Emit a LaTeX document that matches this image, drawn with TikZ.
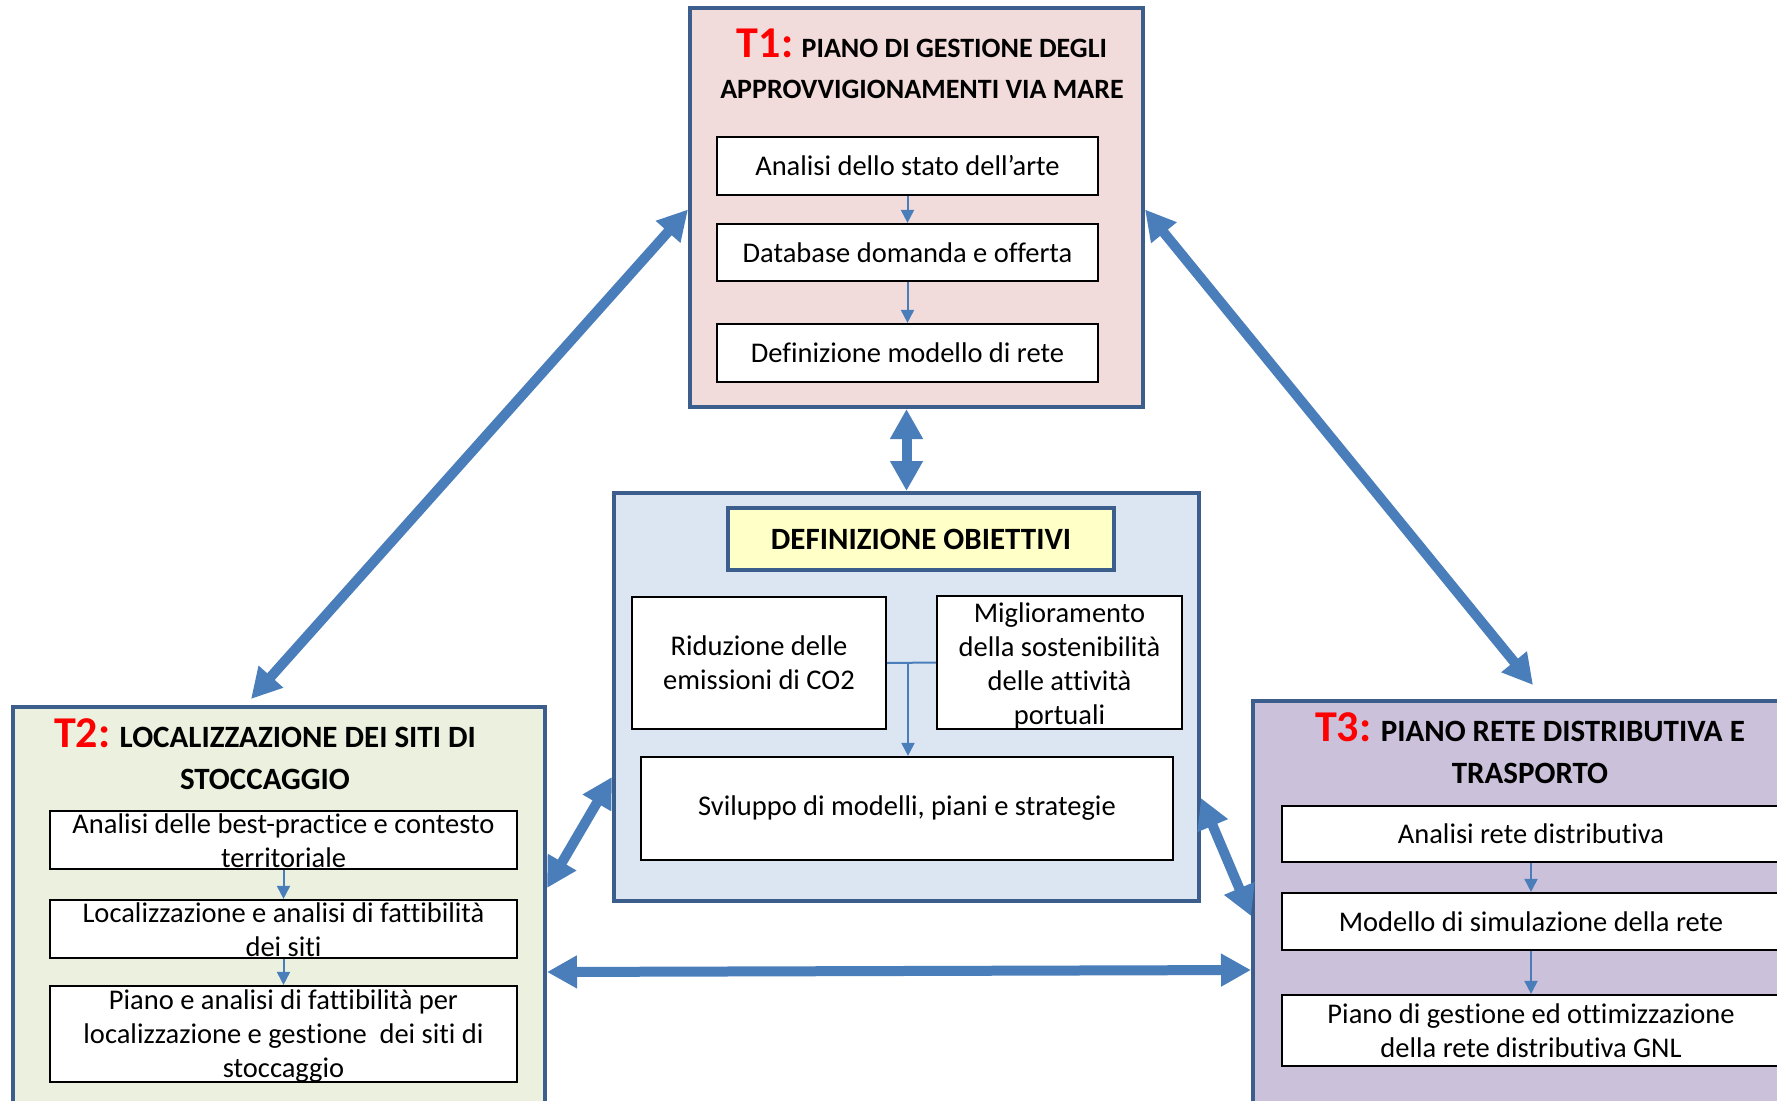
\documentclass[tikz,border=0pt]{standalone}
\usepackage{fontspec}
\setmainfont{Carlito}[Ligatures=NoCommon]
\usetikzlibrary{arrows.meta}
\definecolor{arrowblue}{HTML}{4A7EBB}
\definecolor{frameblue}{HTML}{3B5E8C}
\definecolor{tonepink}{HTML}{F2DCDB}
\definecolor{toneblue}{HTML}{DCE6F2}
\definecolor{tonegreen}{HTML}{EBF1DE}
\definecolor{tonepurple}{HTML}{CCC1DA}
\definecolor{toneyellow}{HTML}{FFFFC8}
\newcommand{\tasktag}[1]{{\color{red}\fontsize{44}{44}\selectfont #1}}
\begin{document}
\begin{tikzpicture}[x=1pt,y=-1pt,
  panel/.style={draw=frameblue, line width=4pt, inner sep=0pt, anchor=north west},
  ibox/.style={draw=black, line width=2.2pt, fill=white, inner sep=0pt, font=\fontsize{28.5}{34}\selectfont, align=center},
  itext/.style={font=\fontsize{28.5}{34}\selectfont, align=center, inner sep=0pt},
  ttl/.style={font=\bfseries\fontsize{28}{41}\selectfont, align=center, inner sep=0pt},
  ttlbig/.style={font=\bfseries\fontsize{31}{42}\selectfont, align=center, inner sep=0pt},
  big/.style={arrowblue, line width=10pt, {Triangle[width=31pt,length=30pt]}-{Triangle[width=31pt,length=30pt]}},
  small/.style={arrowblue, line width=2pt, -{Triangle[width=13pt,length=13pt]}}
]
\useasboundingbox (0,0) rectangle (1777,1100);
\clip (0,0) rectangle (1777,1100);
\fill[white] (0,0) rectangle (1777,1100);

% panels
\node[panel, fill=tonepink, minimum width=453pt, minimum height=399pt] (t1) at (688,6) {};
\node[panel, fill=toneblue, minimum width=585pt, minimum height=408pt] (cen) at (612,491) {};
\node[panel, fill=tonegreen, minimum width=532pt, minimum height=450pt] (t2) at (11,705) {};
\node[panel, fill=tonepurple, minimum width=560pt, minimum height=450pt] (t3) at (1251,699) {};

% titles
\node[ttl] (t1title) at (922,64) {\tasktag{T1:} PIANO DI GESTIONE DEGLI\\APPROVVIGIONAMENTI VIA MARE};
\node[ttlbig] (t2title) at (265,754) {\tasktag{T2:} LOCALIZZAZIONE DEI SITI DI\\STOCCAGGIO};
\node[ttlbig] (t3title) at (1530,748) {\tasktag{T3:} PIANO RETE DISTRIBUTIVA E\\TRASPORTO};

% T1 steps
\node[ibox, minimum width=381pt, minimum height=58pt] (a1) at (907.5,166) {Analisi dello stato dell’arte};
\node[ibox, minimum width=381pt, minimum height=57pt] (a2) at (907.5,252.5) {Database domanda e offerta};
\node[ibox, minimum width=381pt, minimum height=58pt] (a3) at (907.5,353) {Definizione modello di rete};
\draw[small] (a1.south) -- (a2.north);
\draw[small] (a2.south) -- (a3.north);

% centre
\node[draw=frameblue, line width=4pt, fill=toneyellow, minimum width=386pt, minimum height=62pt,
      font=\bfseries\fontsize{31}{36}\selectfont] (obj) at (921,539) {DEFINIZIONE OBIETTIVI};
\node[ibox, minimum width=254pt, minimum height=132pt] (rid) at (759,663) {Riduzione delle\\emissioni di CO2};
\node[ibox, minimum width=245pt, minimum height=133pt] (mig) at (1059.5,662.5) {};
\node[itext] at ([yshift=-3pt]mig.center) {Miglioramento\\della sostenibilità\\delle attività\\portuali};
\node[ibox, minimum width=532pt, minimum height=103pt] (svil) at (907,808.5) {Sviluppo di modelli, piani e strategie};
\coordinate (j) at (908,663);
\draw[arrowblue, line width=2pt] (rid.east) -- (mig.west);
\draw[small] (j) -- (j |- svil.north);

% T2 steps
\node[ibox, minimum width=467pt, minimum height=58pt] (b1) at (283.5,840) {};
\node[itext] at ([yshift=-1pt]b1.center) {Analisi delle best-practice e contesto\\territoriale};
\node[ibox, minimum width=467pt, minimum height=58pt] (b2) at (283.5,929) {};
\node[itext] at ([yshift=-1pt]b2.center) {Localizzazione e analisi di fattibilità\\dei siti};
\node[ibox, minimum width=467pt, minimum height=96pt] (b3) at (283.5,1034) {};
\node[itext] at ([yshift=-2pt]b3.center) {Piano e analisi di fattibilità per\\localizzazione e gestione\ \ dei siti di\\stoccaggio};
\draw[small] (b1.south) -- (b2.north);
\draw[small] (b2.south) -- (b3.north);

% T3 steps
\node[ibox, minimum width=498pt, minimum height=56pt] (c1) at (1531,834) {Analisi rete distributiva};
\node[ibox, minimum width=498pt, minimum height=57pt] (c2) at (1531,921.5) {Modello di simulazione della rete};
\node[ibox, minimum width=498pt, minimum height=71pt] (c3) at (1531,1030.5) {Piano di gestione ed ottimizzazione\\della rete distributiva GNL};
\draw[small] (c1.south) -- (c2.north);
\draw[small] (c2.south) -- (c3.north);

% big connectors
\draw[big] ([yshift=-2pt]t1.west) -- ([xshift=-28pt,yshift=6pt]t2.north);
\draw[big] ([yshift=-2pt]t1.east) -- ([yshift=14pt]t3.north);
\draw[big] (t1.south -| cen.north) -- (cen.north);
\draw[big] ([yshift=-80pt]cen.west) -- ([yshift=-183pt]t2.north east);
\draw[big] ([yshift=-101pt]cen.east) -- ([yshift=-217pt]t3.north west);
\draw[big] ([yshift=-267pt]t2.north east) -- ([yshift=-271pt]t3.north west);
\end{tikzpicture}
\end{document}
